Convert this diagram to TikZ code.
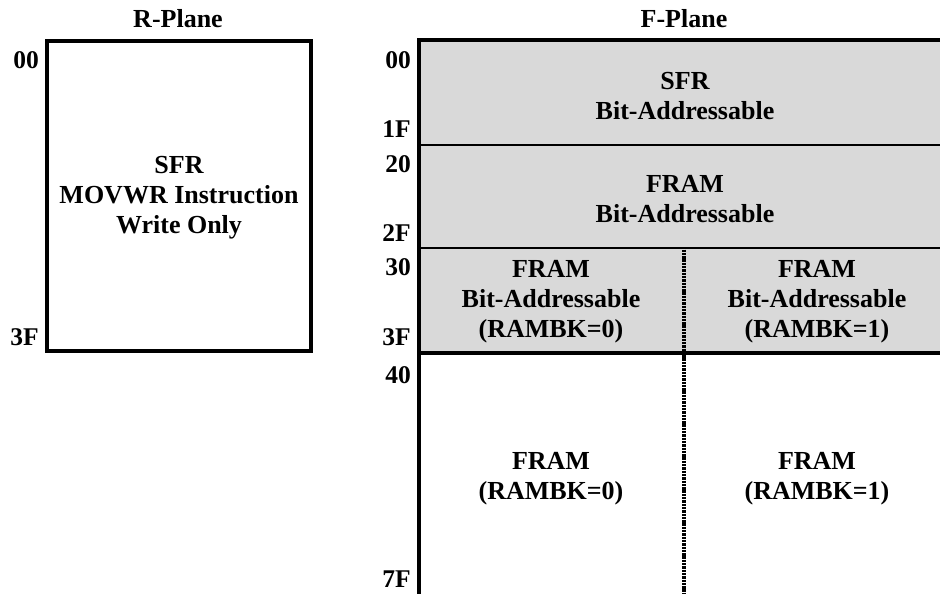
\documentclass[tikz,border=0pt]{standalone}
\usepackage{fontspec}
\setmainfont{Liberation Serif}
\definecolor{cellgrey}{RGB}{217,217,217}
\begin{document}
\begin{tikzpicture}[x=1pt,y=-1pt,
  lbl/.style={font=\fontsize{26}{30}\selectfont\bfseries, align=center, inner sep=0pt},
  addr/.style={font=\fontsize{25.5}{30}\selectfont\bfseries, anchor=base east, inner sep=0pt},
  thickline/.style={line width=4pt},
  thinline/.style={line width=2.5pt},
  dashline/.style={line width=3.2pt, dash pattern=on 2.4pt off 0.9pt}]
\useasboundingbox (0,0) rectangle (940,594);
\clip (0,0) rectangle (940,594);
% F-Plane grey area
\fill[cellgrey] (419,40) rectangle (960,353);
\draw[thinline] (419,145) -- (960,145);
\draw[thinline] (419,248) -- (960,248);
\draw[thickline] (419,353) -- (960,353);
\draw[dashline] (684,249.5) -- (684,600);
\draw[thickline] (960,40) -- (419,40) -- (419,600);
% R-Plane box
\draw[thickline] (47,41) rectangle (311,351);
% titles
\node[lbl, anchor=base] (rtitle) at (178,28) {R-Plane};
\node[lbl, anchor=base] (ftitle) at (684,28) {F-Plane};
% R-plane addresses
\node[addr] (r00) at (39,69) {00};
\node[addr] (r3F) at (39,345) {3F};
% F-plane addresses
\node[addr] (f00) at (411,69) {00};
\node[addr] (f1F) at (411,137) {1F};
\node[addr] (f20) at (411,172) {20};
\node[addr] (f2F) at (411,241) {2F};
\node[addr] (f30) at (411,275) {30};
\node[addr] (f3F) at (411,345) {3F};
\node[addr] (f40) at (411,383) {40};
\node[addr] (f7F) at (411,587) {7F};
% contents
\node[lbl] (rsfr) at (179,198) {SFR\\MOVWR Instruction\\Write Only};
\node[lbl] (fsfr) at (685,96) {SFR\\Bit-Addressable};
\node[lbl] (fram1) at (685,199) {FRAM\\Bit-Addressable};
\node[lbl] (fram30a) at (551,302) {FRAM\\Bit-Addressable\\(RAMBK=0)};
\node[lbl] (fram30b) at (817,302) {FRAM\\Bit-Addressable\\(RAMBK=1)};
\node[lbl] (fram40a) at (551,479) {FRAM\\(RAMBK=0)};
\node[lbl] (fram40b) at (817,479) {FRAM\\(RAMBK=1)};
\end{tikzpicture}
\end{document}
